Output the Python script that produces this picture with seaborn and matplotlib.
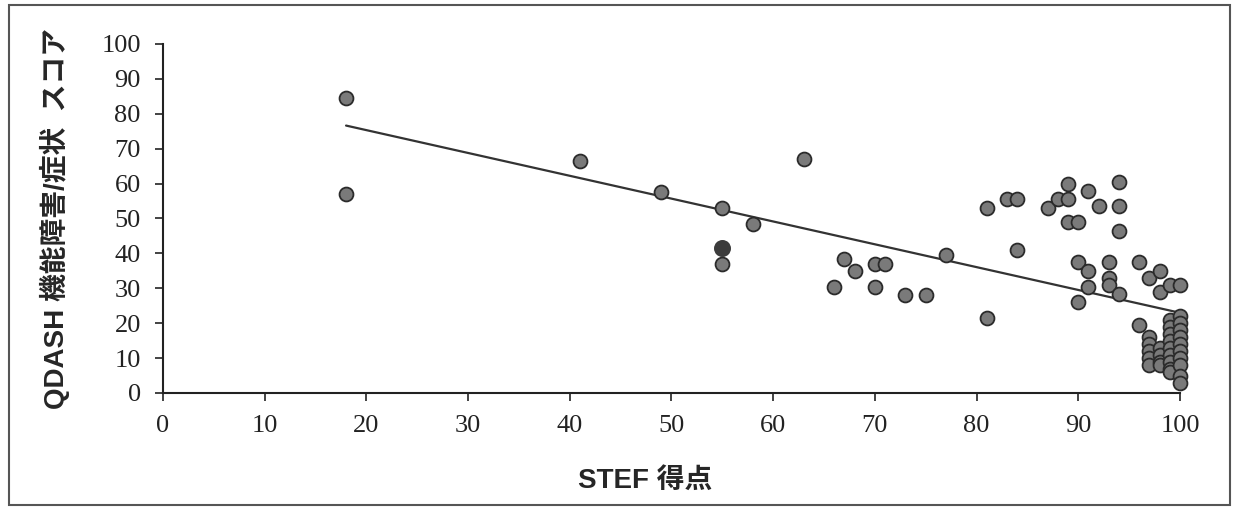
import pandas as pd
import seaborn as sns
import matplotlib.pyplot as plt
from matplotlib.patches import Rectangle

# STEF score vs QDASH score
stef_score = [18, 18, 41, 49, 55, 55, 58, 63, 66, 67, 68, 70, 70, 71, 73, 75, 77,
              81, 81, 83, 84, 84, 87, 88, 89, 89, 89, 90, 90, 90, 91, 91, 91, 92,
              93, 93, 93, 94, 94, 94, 94, 96, 96, 97, 98, 98, 99, 100,
              97, 97, 97, 97, 97, 98, 98, 98, 98,
              99, 99, 99, 99, 99, 99, 99, 99, 99,
              100, 100, 100, 100, 100, 100, 100, 100, 100, 100]
qdash_score = [84.5, 57, 66.5, 57.5, 53, 37, 48.5, 67, 30.5, 38.5, 35, 37, 30.5, 37, 28, 28, 39.5,
               21.5, 53, 55.5, 55.5, 41, 53, 55.5, 60, 55.5, 49, 49, 37.5, 26, 58, 35, 30.5, 53.5,
               37.5, 33, 31, 60.5, 53.5, 46.5, 28.5, 37.5, 19.5, 33, 35, 29, 31, 31,
               16, 14, 12, 10, 8, 13, 11, 9, 8,
               21, 19, 17, 15, 13, 11, 9, 7, 6,
               22, 20, 18, 16, 14, 12, 10, 8, 5, 3]

# one point drawn as a solid dark dot
highlight_stef = [55]
highlight_qdash = [41.5]

x_ticks = list(range(0, 101, 10))
y_ticks = list(range(0, 101, 10))

data = pd.DataFrame({"STEF": stef_score + highlight_stef,
                     "QDASH": qdash_score + highlight_qdash})

sns.set_style("ticks")
plt.rcParams["font.family"] = ["Liberation Sans", "Noto Sans CJK JP"]

fig = plt.figure(figsize=(12.34, 5.08), dpi=100)
ax = fig.add_axes([0.1321, 0.2264, 0.8241, 0.687])

# linear trend line over the data range
sns.regplot(data=data, x="STEF", y="QDASH", scatter=False, ci=None, truncate=True,
            color="#333333", line_kws={"lw": 1.6}, ax=ax)
sns.scatterplot(x=stef_score, y=qdash_score, s=100, color="#7a7a7a", edgecolor="#2b2b2b",
                linewidth=1.3, clip_on=False, zorder=3, ax=ax)
sns.scatterplot(x=highlight_stef, y=highlight_qdash, s=150, color="#3c3c3c",
                linewidth=0, zorder=3, ax=ax)

ax.set_xlim(0, 100)
ax.set_ylim(0, 100)
ax.set_xticks(x_ticks)
ax.set_yticks(y_ticks)
sns.despine(ax=ax)
for side in ["left", "bottom"]:
    ax.spines[side].set_linewidth(1.5)
    ax.spines[side].set_color("#222222")
ax.tick_params(direction="out", length=6, width=1.2, pad=10, labelsize=19, colors="#222222")
plt.setp(ax.get_xticklabels() + ax.get_yticklabels(), fontfamily="Liberation Serif")

ax.set_xlabel("STEF 得点", fontsize=20, fontweight="bold", va="center")
ax.set_ylabel("QDASH 機能障害/症状  スコア", fontsize=20, fontweight="bold", va="center")
ax.xaxis.set_label_coords(0.474, -0.252)
ax.yaxis.set_label_coords(-0.106, 0.5)

# outer frame around the whole chart
fig.add_artist(Rectangle((0.0073, 0.006), 0.9895, 0.984, transform=fig.transFigure,
                         fill=False, edgecolor="#555555", lw=1.5))

fig.savefig("out.png", dpi=100)
